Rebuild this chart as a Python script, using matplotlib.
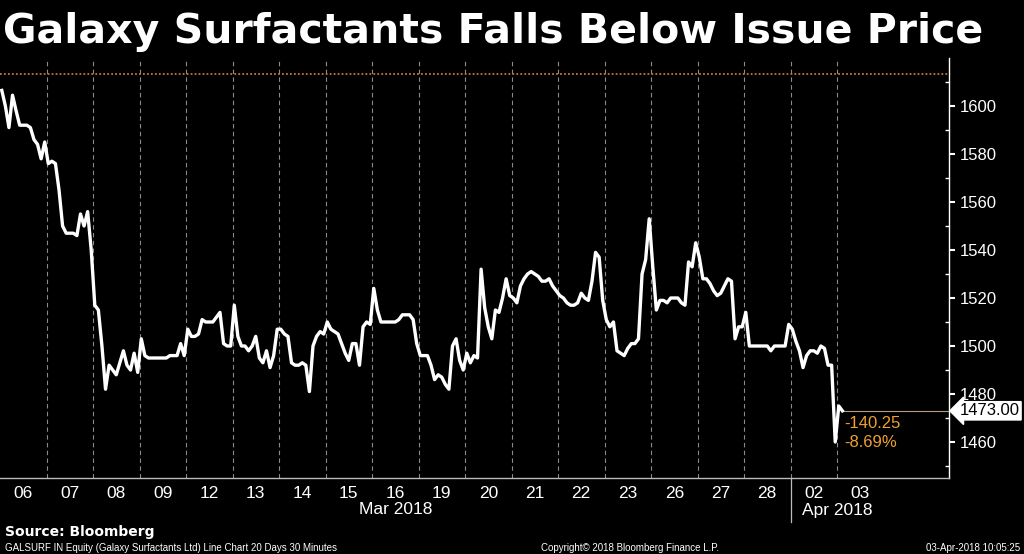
import numpy as np
import matplotlib
matplotlib.use("Agg")
import matplotlib.pyplot as plt
import matplotlib.transforms as mtransforms

# 30-minute closes per trading day
day_labels = ['06', '07', '08', '09', '12', '13', '14', '15', '16', '19',
              '20', '21', '22', '23', '26', '27', '28', '02', '03']
d06 = [1606.5, 1600, 1591, 1604.5, 1598, 1592, 1592, 1592, 1591, 1586, 1584, 1578, 1585]
d07 = [1576, 1577, 1576, 1565, 1550, 1547, 1547, 1547, 1546, 1555, 1550, 1556, 1540]
d08 = [1517, 1515, 1500, 1482, 1492, 1490, 1488, 1493, 1498, 1492, 1490, 1497, 1489]
d09 = [1503, 1496, 1495, 1495, 1495, 1495, 1495, 1495, 1496, 1496, 1496, 1501, 1496]
d12 = [1507, 1504, 1504, 1505, 1511, 1510, 1510, 1510, 1512, 1514, 1501, 1500, 1500]
d13 = [1517, 1504, 1500, 1500, 1498, 1500, 1504, 1495, 1493, 1498, 1491, 1496, 1507]
d14 = [1507, 1505, 1504, 1493, 1492, 1492, 1493, 1492, 1481, 1500, 1504, 1506, 1505]
d15 = [1510, 1507, 1506, 1505, 1501, 1497, 1494, 1501, 1501, 1492, 1508, 1510, 1509]
d16 = [1524, 1515, 1510, 1510, 1510, 1510, 1510, 1511, 1513, 1513, 1513, 1511, 1501]
d19 = [1496, 1496, 1496, 1492, 1486, 1488, 1487, 1484, 1482, 1500, 1503, 1494, 1490]
d20 = [1497, 1493, 1496, 1495, 1532, 1516, 1508, 1503, 1515, 1514, 1520, 1528, 1521]
d21 = [1520, 1518, 1525, 1528, 1530, 1531, 1530, 1529, 1527, 1527, 1528, 1525, 1523]
d22 = [1521, 1520, 1518, 1517, 1517, 1518, 1522, 1520, 1519, 1527, 1539, 1537, 1519]
d23 = [1511, 1508, 1510, 1498, 1497, 1496, 1499, 1501, 1501, 1503, 1530, 1536, 1553]
d26 = [1533, 1515, 1519, 1519, 1518, 1520, 1520, 1520, 1518, 1517, 1535, 1533, 1543]
d27 = [1537, 1528, 1528, 1526, 1523, 1521, 1522, 1525, 1528, 1527, 1503, 1508, 1508]
d28 = [1514, 1500, 1500, 1500, 1500, 1500, 1500, 1498, 1500, 1500, 1500, 1500, 1509]
d02 = [1507, 1502, 1498, 1491, 1496, 1498, 1498, 1497, 1500, 1499, 1492, 1492, 1460]
d03 = [1475, 1473]
days = [d06, d07, d08, d09, d12, d13, d14, d15, d16, d19,
        d20, d21, d22, d23, d26, d27, d28, d02, d03]

bars_per_day = 13
ref_price = 1613.25
last_price = 1473.00
change = -140.25
change_pct = -8.69

# x in "day" units: each day is one unit wide
xs, ys = [], []
for i, d in enumerate(days):
    for j, v in enumerate(d):
        xs.append(i + (j + 0.5) / bars_per_day)
        ys.append(v)

BG = 'black'
FG = 'white'
ORANGE = '#f0a030'
plt.rcParams['font.family'] = ['Liberation Sans', 'DejaVu Sans']

fig = plt.figure(figsize=(10.24, 5.54), dpi=100, facecolor=BG)
ax = fig.add_axes([0, 1 - 478 / 554, 949 / 1024, (478 - 58) / 554], facecolor=BG)

ax.plot(xs, ys, color=FG, lw=2.4, solid_joinstyle='round', zorder=5)
ax.axhline(ref_price, color='#c8763a', lw=1.3, ls=(0, (1, 1.2)), zorder=3)

ax.set_xlim(0, 949 / 46.5)
ax.set_ylim(1445, 1620)

# day separators
for i in range(1, len(days)):
    ax.axvline(i, color='#8a8a8a', lw=0.8, ls=(0, (4, 3)), zorder=1)
# month separator continues below the axis
ax.axvline(17, ymin=-0.105, ymax=0, color='#bbbbbb', lw=0.9, clip_on=False)

for s in ['left', 'top']:
    ax.spines[s].set_visible(False)
ax.spines['right'].set_color(FG)
ax.spines['right'].set_linewidth(1.0)
ax.spines['bottom'].set_color('#bbbbbb')
ax.spines['bottom'].set_linewidth(1.0)

ax.yaxis.tick_right()
ax.set_yticks(np.arange(1460, 1601, 20))
ax.set_yticks(np.arange(1450, 1620, 10), minor=True)
ax.tick_params(axis='y', which='major', colors=FG, labelsize=12, length=4, width=1.5, pad=4)
ax.tick_params(axis='y', which='minor', colors=FG, length=3, width=1, direction='in')

ax.set_xticks([i + 0.5 for i in range(len(days))])
ax.set_xticklabels(day_labels)
ax.tick_params(axis='x', colors=FG, labelsize=12.5, length=0, pad=6)

trans = mtransforms.blended_transform_factory(ax.transData, fig.transFigure)
ax.text(17 / 2, 1 - 510 / 554, 'Mar 2018', transform=trans, color=FG,
        fontsize=12.5, ha='center', va='center')
ax.text(18, 1 - 510 / 554, 'Apr 2018', transform=trans, color=FG,
        fontsize=12.5, ha='center', va='center')

# last price marker, connector and change text
last_x = xs[-1]
ax.hlines(last_price, last_x, ax.get_xlim()[1], color='#b8a07a', lw=0.8, zorder=4)
ax.text(last_x + 0.03, 1467.8, f'{change:.2f}', color=ORANGE, fontsize=12,
        ha='left', va='center', zorder=6)
ax.text(last_x + 0.03, 1459.6, f'{change_pct:.2f}%', color=ORANGE, fontsize=12,
        ha='left', va='center', zorder=6)
ytrans = mtransforms.blended_transform_factory(ax.transAxes, ax.transData)
ax.text(1.011, last_price, f'{last_price:.2f}', transform=ytrans, color='black',
        fontsize=12, ha='left', va='center',
        bbox=dict(boxstyle='larrow,pad=0.1', fc='white', ec='white'))

fig.text(3 / 1024, 1 - 43 / 554, 'Galaxy Surfactants Falls Below Issue Price',
         color=FG, fontsize=29.5, fontweight='bold', family='DejaVu Sans', va='baseline')
fig.text(5 / 1024, 1 - 536 / 554, 'Source: Bloomberg', color=FG, fontsize=10,
         fontweight='bold', family='DejaVu Sans', va='baseline')
fig.text(5 / 1024, 1 - 551 / 554,
         'GALSURF IN Equity (Galaxy Surfactants Ltd) Line Chart 20 Days 30 Minutes',
         color=FG, fontsize=7, va='baseline')
fig.text(541 / 1024, 1 - 551 / 554, 'Copyright\u00a9 2018 Bloomberg Finance L.P.',
         color=FG, fontsize=7, va='baseline')
fig.text(1020 / 1024, 1 - 551 / 554, '03-Apr-2018 10:05:25',
         color=FG, fontsize=7, ha='right', va='baseline')

fig.savefig('out.png', dpi=100, facecolor=BG)
